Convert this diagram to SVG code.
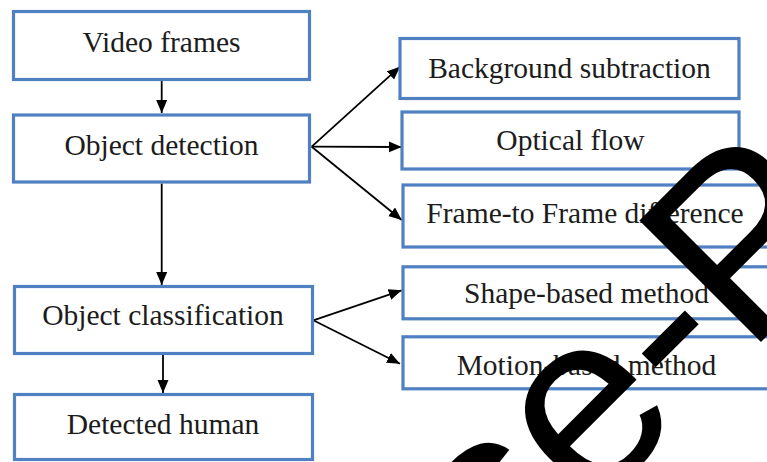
<svg xmlns="http://www.w3.org/2000/svg" width="767" height="462" viewBox="0 0 767 462">
<defs>
<style>
.box{fill:#ffffff;stroke:#4f81c2;stroke-width:3.2}
.lbl{font-family:"Liberation Serif","Times New Roman",serif;font-size:29.5px;fill:#1c1c1c;text-anchor:middle}
.con{stroke:#000;stroke-width:1.8;fill:none;marker-end:url(#ah)}
.wm{font-family:"Liberation Sans",Arial,sans-serif;font-size:250px;fill:#000}
</style>
<marker id="ah" markerUnits="userSpaceOnUse" markerWidth="14" markerHeight="12" refX="13" refY="5.5" orient="auto">
<path d="M0,0 L13,5.5 L0,11 Z" fill="#000"/>
</marker>
</defs>
<rect width="767" height="462" fill="#ffffff"/>
<g id="connectors">
<line class="con" x1="161.7" y1="81" x2="161.7" y2="113"/>
<line class="con" x1="161.7" y1="183.5" x2="161.7" y2="285"/>
<line class="con" x1="163" y1="355" x2="163" y2="393"/>
<line class="con" x1="311.7" y1="146.7" x2="400" y2="66.7"/>
<line class="con" x1="311.7" y1="146.7" x2="401.7" y2="147"/>
<line class="con" x1="311.7" y1="146.7" x2="401.7" y2="220"/>
<line class="con" x1="313.3" y1="320.3" x2="401.7" y2="290.3"/>
<line class="con" x1="313.3" y1="320.3" x2="400" y2="363.7"/>
</g>
<g id="video-frames"><rect class="box" x="13.5" y="11.5" width="296" height="68"/><text class="lbl" x="161.5" y="52">Video frames</text></g>
<g id="object-detection"><rect class="box" x="13.5" y="115" width="296" height="67"/><text class="lbl" x="161.5" y="154.5">Object detection</text></g>
<g id="object-classification"><rect class="box" x="14.5" y="286.5" width="298" height="67"/><text class="lbl" x="163" y="325.3">Object classification</text></g>
<g id="detected-human"><rect class="box" x="14.5" y="394.5" width="298" height="65"/><text class="lbl" x="163" y="433.7">Detected human</text></g>
<g id="background-subtraction"><rect class="box" x="400" y="38.5" width="339" height="60"/><text class="lbl" x="569.5" y="78.3">Background subtraction</text></g>
<g id="optical-flow"><rect class="box" x="402" y="112" width="337" height="57"/><text class="lbl" x="570.5" y="150">Optical flow</text></g>
<g id="frame-difference"><rect class="box" x="403" y="185" width="366" height="62"/><text class="lbl" x="585" y="223.3">Frame-to Frame difference</text></g>
<g id="shape-based"><rect class="box" x="403" y="266.8" width="366" height="52"/><text class="lbl" x="586.5" y="303.3">Shape-based method</text></g>
<g id="motion-based"><rect class="box" x="403" y="336.8" width="366" height="52"/><text class="lbl" x="586.5" y="375">Motion-based method</text></g>
<g id="watermark"><text class="wm" transform="translate(501,602) rotate(-45)">se-P</text></g>
</svg>
